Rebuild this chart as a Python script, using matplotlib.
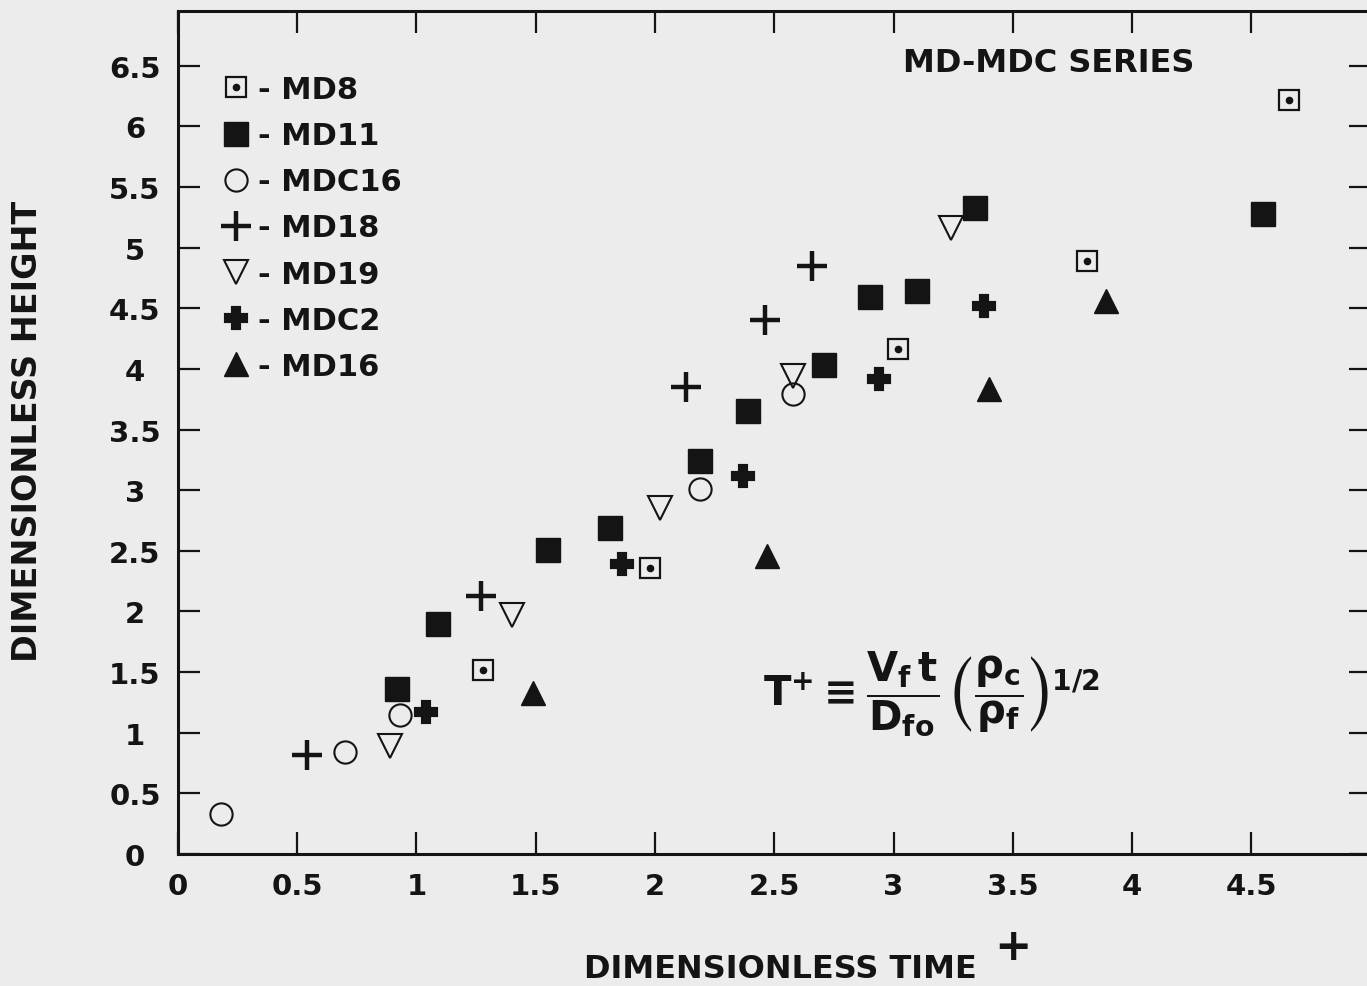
import numpy as np
import matplotlib
matplotlib.use("Agg")
import matplotlib.pyplot as plt
from matplotlib.legend_handler import HandlerTuple

# dimensionless time / height per test
md8_t = [1.28, 1.98, 3.02, 3.81, 4.66]
md8_h = [1.52, 2.36, 4.16, 4.89, 6.22]

md11_t = [0.92, 1.09, 1.55, 1.81, 2.19, 2.39, 2.71, 2.90, 3.10, 3.34, 4.55]
md11_h = [1.36, 1.90, 2.51, 2.69, 3.24, 3.65, 4.03, 4.59, 4.64, 5.33, 5.28]

mdc16_t = [0.18, 0.70, 0.93, 2.19, 2.58]
mdc16_h = [0.33, 0.84, 1.15, 3.01, 3.79]

md18_t = [0.54, 1.27, 2.13, 2.46, 2.66]
md18_h = [0.82, 2.13, 3.85, 4.40, 4.85]

md19_t = [0.89, 1.40, 2.02, 2.58, 3.24]
md19_h = [0.89, 1.97, 2.85, 3.94, 5.16]

mdc2_t = [1.04, 1.86, 2.37, 2.94, 3.38]
mdc2_h = [1.17, 2.39, 3.12, 3.92, 4.52]

md16_t = [1.49, 2.47, 3.40, 3.89]
md16_h = [1.33, 2.46, 3.83, 4.56]

xticks = [0, 0.5, 1, 1.5, 2, 2.5, 3, 3.5, 4, 4.5]
yticks = [0, 0.5, 1, 1.5, 2, 2.5, 3, 3.5, 4, 4.5, 5, 5.5, 6, 6.5]

plt.rcParams['font.family'] = 'DejaVu Sans'
plt.rcParams['font.weight'] = 'bold'
plt.rcParams['mathtext.fontset'] = 'dejavusans'
plt.rcParams['mathtext.default'] = 'bf'

bg = '#ececec'
ink = '#141414'

fig = plt.figure(figsize=(13.67, 9.87), dpi=100, facecolor=bg)
ax = fig.add_axes([0.1302, 0.1337, 0.8724, 0.8541], facecolor=bg)

sq_md8, = ax.plot(md8_t, md8_h, ls='none', marker='s', ms=15, mfc='none', mec=ink, mew=1.6)
dot_md8, = ax.plot(md8_t, md8_h, ls='none', marker='o', ms=4.5, mfc=ink, mec=ink)
h11, = ax.plot(md11_t, md11_h, ls='none', marker='s', ms=17, mfc=ink, mec=ink, mew=1)
h16c, = ax.plot(mdc16_t, mdc16_h, ls='none', marker='o', ms=16, mfc='none', mec=ink, mew=1.5)
h18, = ax.plot(md18_t, md18_h, ls='none', marker='+', ms=21, mec=ink, mew=3.2)
h19, = ax.plot(md19_t, md19_h, ls='none', marker='v', ms=17, mfc='none', mec=ink, mew=1.5)
h2, = ax.plot(mdc2_t, mdc2_h, ls='none', marker='P', ms=15, mfc=ink, mec=ink, mew=3)
h16, = ax.plot(md16_t, md16_h, ls='none', marker='^', ms=17, mfc=ink, mec=ink, mew=1)

ax.set_xlim(0, 5)
ax.set_ylim(0, 6.95)
ax.set_xticks(xticks)
ax.set_xticklabels([f'{v:g}' for v in xticks])
ax.set_yticks(yticks)
ax.set_yticklabels([f'{v:g}' for v in yticks])

for s in ax.spines.values():
    s.set_linewidth(2.2)
    s.set_color(ink)
ax.tick_params(axis='both', direction='in', length=16, width=1.6, color=ink,
               top=True, right=True, labelsize=21, labelcolor=ink)
ax.tick_params(axis='x', pad=13)
ax.tick_params(axis='y', pad=31)
for lab in ax.get_yticklabels():
    lab.set_ha('center')

ax.set_xlabel('DIMENSIONLESS TIME', fontsize=23, fontweight='bold', color=ink)
ax.xaxis.set_label_coords(0.505, -0.117)
ax.set_ylabel('DIMENSIONLESS HEIGHT', fontsize=24, fontweight='bold', color=ink)
ax.yaxis.set_label_coords(-0.112, 0.503)
fig.text(0.741, 0.040, '+', fontsize=32, fontweight='bold', color=ink, ha='center', va='center')

ax.text(0.730, 0.9395, 'MD-MDC SERIES', transform=ax.transAxes, fontsize=23,
        fontweight='bold', color=ink, ha='center', va='center')

ax.text(0.632, 0.19,
        r'$T^{+}\equiv\dfrac{V_f\,t}{D_{fo}}\,\left(\dfrac{\rho_c}{\rho_f}\right)^{1/2}$',
        transform=ax.transAxes, fontsize=29, color=ink, ha='center', va='center')

handles = [(sq_md8, dot_md8), h11, h16c, h18, h19, h2, h16]
labels = ['- MD8', '- MD11', '- MDC16', '- MD18', '- MD19', '- MDC2', '- MD16']
ax.legend(handles, labels, loc='upper left', bbox_to_anchor=(0.034, 0.924),
          frameon=False, fontsize=22, borderpad=0, borderaxespad=0,
          handlelength=1.15, handletextpad=0.15, labelspacing=0.56,
          handler_map={tuple: HandlerTuple(ndivide=1)}, labelcolor=ink)

fig.savefig('out.png', dpi=100, facecolor=bg)
